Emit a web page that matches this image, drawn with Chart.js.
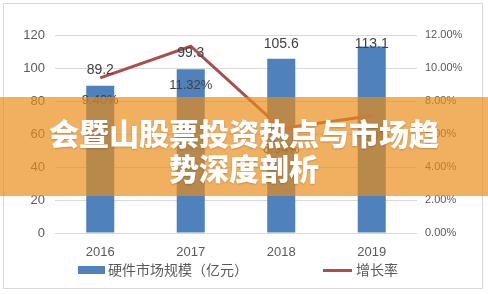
<!DOCTYPE html>
<html>
<head>
<meta charset="utf-8">
<script src="https://cdn.jsdelivr.net/npm/chart.js@4"></script>
<style>
  html, body { margin: 0; padding: 0; background: #fff; }
  #wrap { position: relative; width: 488px; height: 294px; }
  #banner {
    position: absolute; left: 0; top: 97px; width: 488px; height: 99px;
    background: rgba(233, 140, 25, 0.69);
    display: flex; align-items: center; justify-content: center;
  }
  #banner div {
    width: 400px; text-align: center; color: #fff;
    font-family: "Noto Sans CJK SC", sans-serif; font-weight: 900;
    font-size: 30px; line-height: 35px; padding-top: 6px;
    text-shadow: 0 1px 2px rgba(0, 0, 0, 0.2);
  }
</style>
</head>
<body>
<div id="wrap">
  <canvas id="chart" width="488" height="294"></canvas>
  <div id="banner"><div>会暨山股票投资热点与市场趋势深度剖析</div></div>
</div>
<script>
  const years = ["2016", "2017", "2018", "2019"];
  const marketSize = [89.2, 99.3, 105.6, 113.1];
  const growthRate = [9.40, 11.32, 6.34, 7.10];
  const sizeLabel = "硬件市场规模（亿元）";
  const rateLabel = "增长率";

  const barColor = "#4F81BD";
  const lineColor = "#A9504E";
  const textColor = "#595959";

  const frame = {
    id: "frame",
    beforeDraw(chart) {
      const ctx = chart.ctx;
      ctx.save();
      ctx.fillStyle = "#fff";
      ctx.fillRect(0, 0, chart.width, chart.height);
      ctx.strokeStyle = "#d9d9d9";
      ctx.lineWidth = 1;
      ctx.strokeRect(3.5, 3.5, 479, 285);
      ctx.restore();
    },
  };

  const lineLabelOffsets = [23, 39, 21, 21];

  const valueLabels = {
    id: "valueLabels",
    afterDatasetsDraw(chart) {
      const ctx = chart.ctx;
      const y = chart.scales.y;
      const y1 = chart.scales.y1;
      const bars = chart.getDatasetMeta(0).data;
      const pts = chart.getDatasetMeta(1).data;
      ctx.save();
      ctx.fillStyle = "#404040";
      ctx.textAlign = "center";
      ctx.textBaseline = "middle";
      ctx.font = "14px 'Liberation Sans', sans-serif";
      marketSize.forEach((v, i) => {
        let ty = y.getPixelForValue(v) - 16;
        ty = Math.max(ty, chart.chartArea.top + 9);
        ctx.fillText(v.toFixed(1), bars[i].x, ty);
      });
      ctx.font = "13px 'Liberation Sans', sans-serif";
      growthRate.forEach((v, i) => {
        ctx.fillText(v.toFixed(2) + "%", pts[i].x, y1.getPixelForValue(v) + lineLabelOffsets[i]);
      });
      ctx.restore();
    },
  };

  const legendBox = {
    id: "legendBox",
    afterDraw(chart) {
      const ctx = chart.ctx;
      ctx.save();
      ctx.fillStyle = barColor;
      ctx.fillRect(78, 266, 27, 8);
      ctx.strokeStyle = lineColor;
      ctx.lineWidth = 3;
      ctx.beginPath();
      ctx.moveTo(323, 270.5);
      ctx.lineTo(352, 270.5);
      ctx.stroke();
      ctx.fillStyle = textColor;
      ctx.font = "14px 'Noto Sans CJK SC', sans-serif";
      ctx.textBaseline = "middle";
      ctx.fillText(sizeLabel, 108, 270);
      ctx.fillText(rateLabel, 356, 270);
      ctx.restore();
    },
  };

  new Chart(document.getElementById("chart").getContext("2d"), {
    type: "bar",
    data: {
      labels: years,
      datasets: [
        {
          type: "bar",
          label: sizeLabel,
          data: marketSize,
          backgroundColor: barColor,
          yAxisID: "y",
          categoryPercentage: 1,
          barPercentage: 0.31,
          order: 2,
        },
        {
          type: "line",
          label: rateLabel,
          data: growthRate,
          borderColor: lineColor,
          borderWidth: 3,
          pointRadius: 0,
          tension: 0,
          yAxisID: "y1",
          order: 1,
        },
      ],
    },
    options: {
      responsive: false,
      animation: false,
      devicePixelRatio: 1,
      layout: { padding: { left: 3, right: 6, top: 35, bottom: 6 } },
      plugins: { legend: { display: false }, tooltip: { enabled: false } },
      scales: {
        x: {
          grid: { display: false, drawTicks: false },
          border: { display: false },
          ticks: { color: textColor, font: { size: 13, family: "'Liberation Sans', sans-serif" }, padding: 12 },
          afterFit: (a) => { a.height = 55; },
        },
        y: {
          position: "left",
          min: 0,
          max: 120,
          ticks: { stepSize: 20, color: textColor, font: { size: 13, family: "'Liberation Sans', sans-serif" }, padding: 10 },
          grid: { color: "#d9d9d9", drawTicks: false },
          border: { display: false },
          afterFit: (a) => { a.width = 52; },
        },
        y1: {
          position: "right",
          min: 0,
          max: 12,
          ticks: {
            stepSize: 2, color: textColor, padding: 8,
            font: { size: 11, family: "'Liberation Sans', sans-serif" },
            callback: (v) => v.toFixed(2) + "%",
          },
          grid: { display: false, drawTicks: false },
          border: { display: false },
          afterFit: (a) => { a.width = 65; },
        },
      },
    },
    plugins: [frame, valueLabels, legendBox],
  });
</script>
</body>
</html>
